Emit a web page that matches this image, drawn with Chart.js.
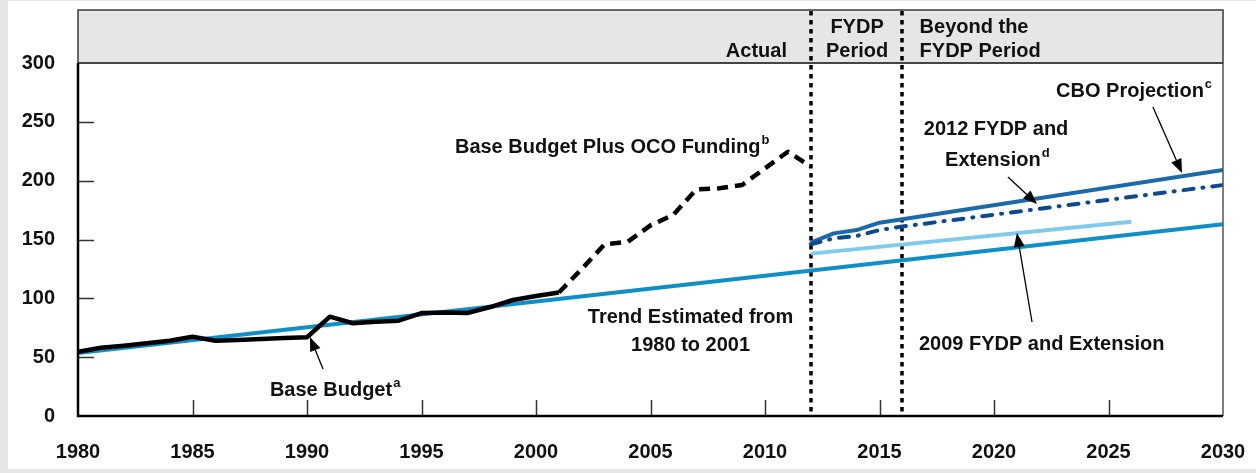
<!DOCTYPE html>
<html>
<head>
<meta charset="utf-8">
<script src="https://cdn.jsdelivr.net/npm/chart.js@4.4.1/dist/chart.umd.min.js"></script>
<style>
  html, body { margin: 0; padding: 0; background: #e6e6e6; }
  canvas { display: block; }
</style>
</head>
<body>
<canvas id="budget" width="1256" height="473"></canvas>
<script>
var baseYears = [1980, 1981, 1982, 1983, 1984, 1985, 1986, 1987, 1988, 1989, 1990,
                 1991, 1992, 1993, 1994, 1995, 1996, 1997, 1998, 1999, 2000, 2001];
var baseBudget = [54.6, 58, 59.8, 61.8, 64, 67.4, 64, 64.6, 65.4, 66.3, 66.9,
                  84.4, 78.8, 80, 81, 87.5, 88, 87.5, 92.6, 98.6, 102, 105];

var ocoYears = [2001, 2002, 2003, 2004, 2005, 2006, 2007, 2008, 2009, 2010, 2011, 2012];
var ocoFunding = [105, 125, 146, 148, 162, 171, 192.6, 193.5, 196.3, 210.5, 224.6, 212];

var trendYears = [1980, 2030];
var trendValues = [53.5, 163];

var fydp2009Years = [2012, 2026];
var fydp2009 = [138, 165];

var cboYears = [2012, 2013, 2014, 2015, 2030];
var cboProjection = [147.3, 155.2, 158, 164.3, 209];

var fydp2012Years = [2012, 2013, 2014, 2015, 2016, 2030];
var fydp2012 = [146, 151, 153, 158, 161, 196.3];

var xTicks = [1980, 1985, 1990, 1995, 2000, 2005, 2010, 2015, 2020, 2025, 2030];
var yTicks = [0, 50, 100, 150, 200, 250, 300];
var periodBreaks = [2012, 2016];

// header band labels (y above 300 sits in the grey band)
var headerNotes = [
    { text: "Actual", x: 2010.96, y: 305.3, align: "right" },
    { text: "FYDP", x: 2014.02, y: 325.5, align: "center" },
    { text: "Period", x: 2014.02, y: 305.3, align: "center" },
    { text: "Beyond the", x: 2016.75, y: 325.5, align: "left" },
    { text: "FYDP Period", x: 2016.75, y: 305.3, align: "left" }
];

var notes = [
    { text: "Base Budget", sup: "a", x: 1988.38, y: 17, align: "left" },
    { text: "Base Budget Plus OCO Funding", sup: "b", x: 1996.46, y: 223.5, align: "left" },
    { text: "Trend Estimated from", x: 2006.75, y: 79, align: "center" },
    { text: "1980 to 2001", x: 2006.75, y: 55.2, align: "center" },
    { text: "CBO Projection", sup: "c", x: 2022.71, y: 270.8, align: "left" },
    { text: "2012 FYDP and", x: 2020.09, y: 238.8, align: "center" },
    { text: "Extension", sup: "d", x: 2019.95, y: 212.5, align: "center" },
    { text: "2009 FYDP and Extension", x: 2016.72, y: 56.1, align: "left" }
];

var arrows = [
    { from: [1990.70, 39.9], to: [1990.13, 67.1] },
    { from: [2026.94, 262.6], to: [2028.21, 206.5] },
    { from: [2020.61, 203.1], to: [2021.88, 180.2] },
    { from: [2021.66, 79.9], to: [2021.00, 155.5] }
];

function pairs(xs, ys) {
    return xs.map(function (x, i) { return { x: x, y: ys[i] }; });
}

var FONT = "'Liberation Sans', Arial, sans-serif";

var decor = {
    id: "decor",
    beforeDraw: function (chart) {
        var ctx = chart.ctx;
        var a = chart.chartArea;
        ctx.save();
        ctx.fillStyle = "#e6e6e6";
        ctx.fillRect(0, 0, chart.width, chart.height);
        ctx.fillStyle = "#ffffff";
        ctx.fillRect(8, 1, chart.width - 8, chart.height - 5);
        // header band
        ctx.fillStyle = "#e6e6e6";
        ctx.fillRect(a.left, a.top - 53, a.right - a.left, 53);
        ctx.strokeStyle = "#3a3a3a";
        ctx.lineWidth = 1.5;
        ctx.strokeRect(a.left, a.top - 53, a.right - a.left, 53);
        ctx.restore();
    },
    beforeDatasetsDraw: function (chart) {
        var ctx = chart.ctx;
        var a = chart.chartArea;
        var xs = chart.scales.x;
        ctx.save();
        ctx.strokeStyle = "#000";
        ctx.lineWidth = 3.5;
        ctx.setLineDash([4.5, 4.5]);
        periodBreaks.forEach(function (yr) {
            var px = Math.round(xs.getPixelForValue(yr));
            ctx.beginPath();
            ctx.moveTo(px, a.top - 52);
            ctx.lineTo(px, a.bottom);
            ctx.stroke();
        });
        ctx.restore();
    },
    afterDatasetsDraw: function (chart) {
        var ctx = chart.ctx;
        var a = chart.chartArea;
        var xs = chart.scales.x;
        var ys = chart.scales.y;
        function pt(p) { return [xs.getPixelForValue(p[0]), ys.getPixelForValue(p[1])]; }

        ctx.save();
        // frame
        ctx.strokeStyle = "#555";
        ctx.lineWidth = 1.5;
        ctx.beginPath();
        ctx.moveTo(a.right, a.top);
        ctx.lineTo(a.right, a.bottom);
        ctx.stroke();
        ctx.strokeStyle = "#3a3a3a";
        ctx.beginPath();
        ctx.moveTo(a.left, a.top);
        ctx.lineTo(a.right, a.top);
        ctx.stroke();

        // inside tick marks
        ctx.strokeStyle = "#333";
        ctx.lineWidth = 1.5;
        yTicks.slice(1, -1).forEach(function (v) {
            var py = Math.round(ys.getPixelForValue(v)) + 0.5;
            ctx.beginPath();
            ctx.moveTo(a.left, py);
            ctx.lineTo(a.left + 16, py);
            ctx.stroke();
        });
        xTicks.slice(1, -1).forEach(function (v) {
            var px = Math.round(xs.getPixelForValue(v)) + 0.5;
            ctx.beginPath();
            ctx.moveTo(px, a.bottom);
            ctx.lineTo(px, a.bottom - 16);
            ctx.stroke();
        });

        ctx.strokeStyle = "#000";
        ctx.lineWidth = 2.5;
        ctx.beginPath();
        ctx.moveTo(a.left, a.top);
        ctx.lineTo(a.left, a.bottom);
        ctx.lineTo(a.right, a.bottom);
        ctx.stroke();

        // text
        ctx.fillStyle = "#111";
        ctx.textBaseline = "alphabetic";
        headerNotes.concat(notes).forEach(function (n) {
            var p = pt([n.x, n.y]);
            ctx.font = "bold 20px " + FONT;
            ctx.textAlign = n.align;
            ctx.fillText(n.text, p[0], p[1]);
            if (n.sup) {
                var w = ctx.measureText(n.text).width;
                var sx = n.align === "left" ? p[0] + w : (n.align === "center" ? p[0] + w / 2 : p[0]);
                ctx.font = "bold 13px " + FONT;
                ctx.textAlign = "left";
                ctx.fillText(n.sup, sx + 1, p[1] - 9);
            }
        });

        // arrows
        ctx.strokeStyle = "#000";
        ctx.fillStyle = "#000";
        ctx.lineWidth = 1.3;
        arrows.forEach(function (ar) {
            var s = pt(ar.from), t = pt(ar.to);
            var dx = t[0] - s[0], dy = t[1] - s[1];
            var len = Math.sqrt(dx * dx + dy * dy);
            var ux = dx / len, uy = dy / len;
            var hl = 14, hw = 5.5;
            var bx = t[0] - ux * hl, by = t[1] - uy * hl;
            ctx.beginPath();
            ctx.moveTo(s[0], s[1]);
            ctx.lineTo(bx, by);
            ctx.stroke();
            ctx.beginPath();
            ctx.moveTo(t[0], t[1]);
            ctx.lineTo(bx - uy * hw, by + ux * hw);
            ctx.lineTo(bx + uy * hw, by - ux * hw);
            ctx.closePath();
            ctx.fill();
        });
        ctx.restore();
    }
};

new Chart(document.getElementById("budget").getContext("2d"), {
    type: "line",
    data: {
        datasets: [
            {
                label: "Base Budget",
                data: pairs(baseYears, baseBudget),
                borderColor: "#000000",
                borderWidth: 4.5
            },
            {
                label: "Base Budget Plus OCO Funding",
                data: pairs(ocoYears, ocoFunding),
                borderColor: "#000000",
                borderWidth: 4.5,
                borderDash: [11, 7]
            },
            {
                label: "2012 FYDP and Extension",
                data: pairs(fydp2012Years, fydp2012),
                borderColor: "#0b4a8f",
                borderWidth: 4,
                borderCapStyle: "round",
                borderDash: [10, 9, 1, 9]
            },
            {
                label: "CBO Projection",
                data: pairs(cboYears, cboProjection),
                borderColor: "#1a6aab",
                borderWidth: 4
            },
            {
                label: "2009 FYDP and Extension",
                data: pairs(fydp2009Years, fydp2009),
                borderColor: "#7fcbeb",
                borderWidth: 4
            },
            {
                label: "Trend Estimated from 1980 to 2001",
                data: pairs(trendYears, trendValues),
                borderColor: "#0d8fc8",
                borderWidth: 4
            }
        ]
    },
    options: {
        responsive: false,
        animation: false,
        devicePixelRatio: 1,
        layout: { padding: { top: 63, right: 33, left: 8, bottom: 0 } },
        elements: {
            point: { radius: 0 },
            line: { tension: 0, borderJoinStyle: "round", fill: false }
        },
        plugins: {
            legend: { display: false },
            tooltip: { enabled: false }
        },
        scales: {
            x: {
                type: "linear",
                min: 1980,
                max: 2030,
                afterBuildTicks: function (scale) {
                    scale.ticks = xTicks.map(function (v) { return { value: v }; });
                },
                afterFit: function (scale) {
                    scale.height = 57;
                    scale.paddingLeft = 0;
                    scale.paddingRight = 0;
                },
                grid: { display: false, drawTicks: false },
                border: { display: false },
                ticks: {
                    padding: 24,
                    maxRotation: 0,
                    autoSkip: false,
                    color: "#111",
                    font: { family: FONT, size: 20, weight: "bold" },
                    callback: function (v) { return String(v); }
                }
            },
            y: {
                min: 0,
                max: 300,
                afterBuildTicks: function (scale) {
                    scale.ticks = yTicks.map(function (v) { return { value: v }; });
                },
                afterFit: function (scale) {
                    scale.width = 70;
                    scale.paddingTop = 0;
                    scale.paddingBottom = 0;
                },
                grid: { display: false, drawTicks: false },
                border: { display: false },
                ticks: {
                    padding: 23,
                    color: "#111",
                    font: { family: FONT, size: 20, weight: "bold" },
                    callback: function (v) { return String(v); }
                }
            }
        }
    },
    plugins: [decor]
});
</script>
</body>
</html>
